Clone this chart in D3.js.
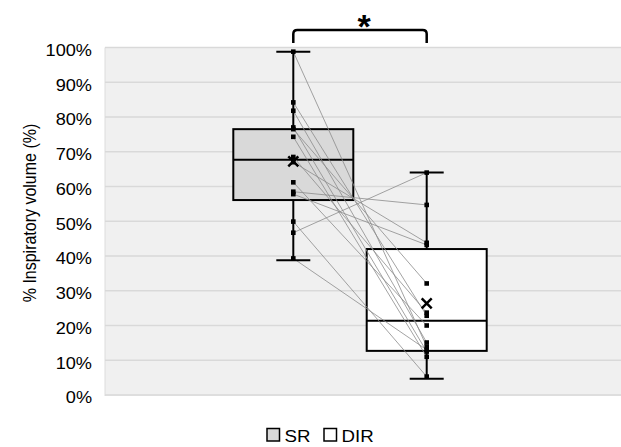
<!DOCTYPE html>
<html>
<head>
<meta charset="utf-8">
<script src="https://cdn.jsdelivr.net/npm/d3@7"></script>
<style>
  body { margin: 0; background: #fff; }
  text { font-family: "Liberation Sans", Arial, Helvetica, sans-serif; fill: #000; }
</style>
</head>
<body>
<svg id="chart"></svg>
<script>
// data
const groups = ['SR', 'DIR']
const srValues  = [98.8, 84.2, 81.8, 77.0, 76.5, 74.3, 68.5, 67.0, 61.2, 58.5, 57.8, 49.9, 46.7, 39.3]
const dirValues = [13.9, 22.8, 15.1, 12.5, 32.1, 11.0, 23.7, 43.8, 20.0, 54.7, 43.2, 5.3, 64.0, 13.0]
const whiskerLow  = [38.8, 4.7]
const q1          = [56.1, 12.7]
const median      = [67.7, 21.4]
const q3          = [76.5, 42.0]
const whiskerHigh = [98.8, 64.0]
const means       = [67.2, 26.4]
const yTicks = [0, 10, 20, 30, 40, 50, 60, 70, 80, 90, 100]
const fills = ['#d9d9d9', '#ffffff']

const width = 621, height = 447
const plot = {left: 105, right: 621, top: 47.5, bottom: 395}
const stretch = 1.1 // text in the reference is a bit wide

const svg = d3.select('#chart')
    .attr('width', width)
    .attr('height', height)

const yScale = d3.scaleLinear()
    .domain([0, 100])
    .range([plot.bottom, plot.top])

const xScale = d3.scalePoint()
    .domain(groups)
    .range([293.3, 426.7])

const boxHalf = 60
const capHalf = 17

// plot background + gridlines
svg.append('rect')
    .attr('x', plot.left)
    .attr('y', plot.top)
    .attr('width', plot.right - plot.left)
    .attr('height', plot.bottom - plot.top + 1)
    .attr('fill', '#f0f0f0')

svg.append('line')
    .attr('x1', plot.left).attr('x2', plot.left)
    .attr('y1', plot.top).attr('y2', plot.bottom + 1)
    .attr('stroke', '#dcdcdc')

svg.append('g')
    .selectAll('line')
    .data(yTicks)
    .join('line')
    .attr('x1', plot.left)
    .attr('x2', plot.right)
    .attr('y1', d => yScale(d))
    .attr('y2', d => yScale(d))
    .attr('stroke', '#d9d9d9')
    .attr('stroke-width', 1.5)

// y axis labels
const yAxis = d3.axisLeft(yScale)
    .tickValues(yTicks)
    .tickSize(0)
    .tickPadding(13)
    .tickFormat(d => d + '%')

const yAxisG = svg.append('g')
    .attr('transform', `translate(${plot.left},0)`)
    .call(yAxis)
yAxisG.select('.domain').remove()
yAxisG.selectAll('text')
    .attr('x', -13 / stretch)
    .attr('dy', '0.47em')
    .attr('transform', `scale(${stretch},1)`)
    .style('font-size', '16.5px')
    .style('font-family', '"Liberation Sans", Arial, sans-serif')
    .attr('fill', '#000')

svg.append('text')
    .attr('transform', `translate(36,213) scale(${stretch},1) rotate(-90)`)
    .attr('text-anchor', 'middle')
    .style('font-size', '16px')
    .text('% Inspiratory volume (%)')

// boxes
const boxes = svg.append('g')
groups.forEach((g, i) => {
    const cx = xScale(g)
    boxes.append('rect')
        .attr('x', cx - boxHalf)
        .attr('y', yScale(q3[i]))
        .attr('width', boxHalf * 2)
        .attr('height', yScale(q1[i]) - yScale(q3[i]))
        .attr('fill', fills[i])
        .attr('stroke', '#000')
        .attr('stroke-width', 2)
    boxes.append('line')
        .attr('x1', cx - boxHalf).attr('x2', cx + boxHalf)
        .attr('y1', yScale(median[i])).attr('y2', yScale(median[i]))
        .attr('stroke', '#000').attr('stroke-width', 2)
})

// paired lines between SR and DIR
svg.append('g')
    .selectAll('line')
    .data(d3.zip(srValues, dirValues))
    .join('line')
    .attr('x1', xScale('SR'))
    .attr('y1', d => yScale(d[0]))
    .attr('x2', xScale('DIR'))
    .attr('y2', d => yScale(d[1]))
    .attr('stroke', '#8c8c8c')
    .attr('stroke-width', 0.8)

// whiskers
const whisk = svg.append('g')
groups.forEach((g, i) => {
    const cx = xScale(g)
    const segs = [[q3[i], whiskerHigh[i]], [q1[i], whiskerLow[i]]]
    segs.forEach(s => {
        whisk.append('line')
            .attr('x1', cx).attr('x2', cx)
            .attr('y1', yScale(s[0])).attr('y2', yScale(s[1]))
            .attr('stroke', '#000').attr('stroke-width', 2)
    })
    ;[whiskerHigh[i], whiskerLow[i]].forEach(v => {
        whisk.append('line')
            .attr('x1', cx - capHalf).attr('x2', cx + capHalf)
            .attr('y1', yScale(v)).attr('y2', yScale(v))
            .attr('stroke', '#000').attr('stroke-width', 2)
    })
})

// points
const pts = svg.append('g')
;[srValues, dirValues].forEach((vals, i) => {
    pts.selectAll(null)
        .data(vals)
        .join('rect')
        .attr('x', xScale(groups[i]) - 2.3)
        .attr('y', d => yScale(d) - 2.3)
        .attr('width', 4.6)
        .attr('height', 4.6)
        .attr('fill', '#000')
})

// means
groups.forEach((g, i) => {
    const cx = xScale(g), cy = yScale(means[i])
    svg.append('path')
        .attr('d', `M${cx - 5},${cy - 5}L${cx + 5},${cy + 5}M${cx + 5},${cy - 5}L${cx - 5},${cy + 5}`)
        .attr('stroke', '#000')
        .attr('stroke-width', 2.5)
})

// significance bracket
const bx1 = xScale('SR'), bx2 = xScale('DIR'), by = 30, r = 4
svg.append('path')
    .attr('d', `M${bx1},43 L${bx1},${by + r} Q${bx1},${by} ${bx1 + r},${by} L${bx2 - r},${by} Q${bx2},${by} ${bx2},${by + r} L${bx2},43`)
    .attr('fill', 'none')
    .attr('stroke', '#000')
    .attr('stroke-width', 2.5)

svg.append('text')
    .attr('x', (bx1 + bx2) / 2 + 4)
    .attr('y', 38)
    .attr('text-anchor', 'middle')
    .style('font-size', '34px')
    .style('font-weight', 'bold')
    .text('*')

// legend
const legend = svg.append('g')
const legendX = [267, 324]
groups.forEach((g, i) => {
    legend.append('rect')
        .attr('x', legendX[i])
        .attr('y', 428.5)
        .attr('width', 12.5)
        .attr('height', 12.5)
        .attr('fill', fills[i])
        .attr('stroke', '#000')
        .attr('stroke-width', 1.5)
    legend.append('text')
        .attr('transform', `translate(${legendX[i] + 17.5},441.5) scale(${stretch},1)`)
        .style('font-size', '17px')
        .text(g)
})
</script>
</body>
</html>
